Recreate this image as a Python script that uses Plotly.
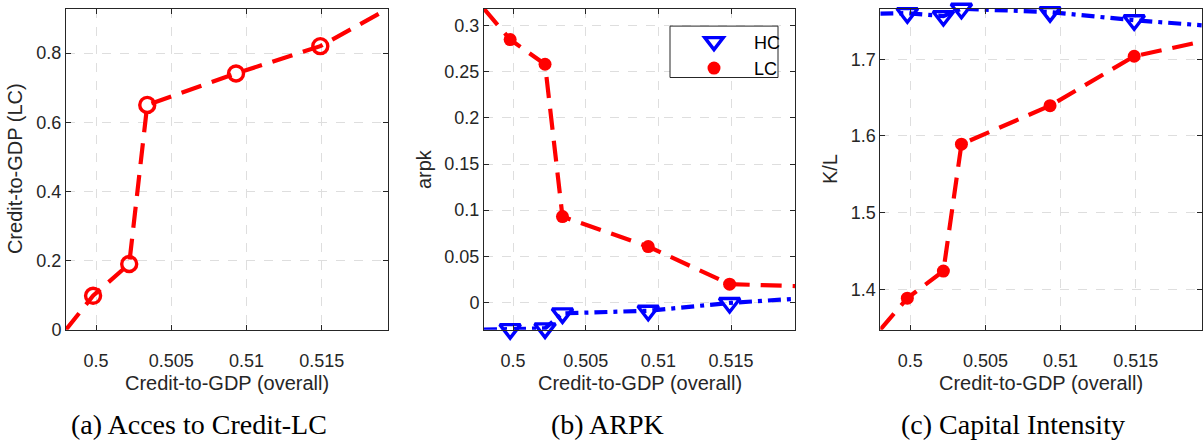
import plotly.graph_objects as go

# ---------------- data ----------------
credit_gdp = [0.4980, 0.4998, 0.5022, 0.5034, 0.5093, 0.5149, 0.5194]
marker_idx = [1, 2, 3, 4, 5]

credit_lc = [0.0, 0.098, 0.190, 0.650, 0.741, 0.820, 0.928]

arpk_lc = [0.3185, 0.2851, 0.2583, 0.0930, 0.0605, 0.0197, 0.0176]
arpk_hc = [-0.0297, -0.0291, -0.0283, -0.0120, -0.0092, -0.0007, 0.0038]

kl_lc = [1.3474, 1.3885, 1.4238, 1.5892, 1.6394, 1.7038, 1.7230]
kl_hc = [1.7595, 1.7600, 1.7562, 1.7657, 1.7614, 1.7508, 1.7442]

x_tickvals = [0.5, 0.505, 0.51, 0.515]
x_ticktext = ["0.5", "0.505", "0.51", "0.515"]
ya_tickvals = [0, 0.2, 0.4, 0.6, 0.8]
ya_ticktext = ["0", "0.2", "0.4", "0.6", "0.8"]
yb_tickvals = [0, 0.05, 0.1, 0.15, 0.2, 0.25, 0.3]
yb_ticktext = ["0", "0.05", "0.1", "0.15", "0.2", "0.25", "0.3"]
yc_tickvals = [1.4, 1.5, 1.6, 1.7]
yc_ticktext = ["1.4", "1.5", "1.6", "1.7"]

x_title = "Credit-to-GDP (overall)"
y_titles = ["Credit-to-GDP (LC)", "arpk", "K/L"]
captions = ["(a) Acces to Credit-LC", "(b) ARPK", "(c) Capital Intensity"]
legend_names = ["HC", "LC"]

# ---------------- styling ----------------
W, H = 1203, 442
RED = "#ff0000"
BLUE = "#0000ff"
AXC = "#262626"
RED_DASH = "21px,11px"
BLUE_DASH = "13px,6px,4px,6px"
SANS = "Liberation Sans, Arial, sans-serif"
NB = "\u00a0"

def px_x(p):
    return p / W

def px_y(p):
    return 1 - p / H

y_dom = [px_y(337.3), px_y(9.0)]
x_doms = [[px_x(66), px_x(388)], [px_x(484), px_x(795)], [px_x(880.3), px_x(1201.8)]]

fig = go.Figure()

def pick(arr):
    return [arr[i] for i in marker_idx]

def add_series(ax, ys, color, dash, symbol, msize, name, showleg):
    xa = "x" if ax == 1 else f"x{ax}"
    xlab = f"x{ax + 3}"
    ya = "y" if ax == 1 else f"y{ax}"
    fig.add_trace(go.Scatter(
        x=credit_gdp, y=ys, mode="lines", xaxis=xa, yaxis=ya,
        line=dict(color=color, width=4.2, dash=dash),
        showlegend=False, hoverinfo="skip"))
    open_sym = symbol.endswith("-open")
    fig.add_trace(go.Scatter(
        x=pick(credit_gdp), y=pick(ys), mode="markers", xaxis=xlab, yaxis=ya,
        name=NB * 4 + name, showlegend=showleg, cliponaxis=False,
        marker=dict(symbol=symbol, size=msize, color=color,
                    line=dict(color=color, width=3.4 if open_sym else 0))))

# panel a
add_series(1, credit_lc, RED, RED_DASH, "circle-open", 15, legend_names[1], False)
# panel b
add_series(2, arpk_hc, BLUE, BLUE_DASH, "triangle-down-open", 18, legend_names[0], True)
add_series(2, arpk_lc, RED, RED_DASH, "circle", 13, legend_names[1], True)
# panel c
add_series(3, kl_hc, BLUE, BLUE_DASH, "triangle-down-open", 18, legend_names[0], False)
add_series(3, kl_lc, RED, RED_DASH, "circle", 13, legend_names[1], False)

tickfont = dict(family=SANS, size=18, color=AXC)

def axis_common():
    return dict(showline=True, linecolor=AXC, linewidth=1, mirror="ticks",
                ticks="inside", ticklen=5, tickwidth=1, tickcolor=AXC,
                showgrid=True, gridcolor="#dedede", gridwidth=1, griddash="dash",
                zeroline=False, tickfont=tickfont)

def tight(*arrs):
    vals = [v for a in arrs for v in a]
    return [min(vals), max(vals)]

y_data = [[credit_lc], [arpk_lc, arpk_hc], [kl_lc, kl_hc]]
y_ticks = [(ya_tickvals, ya_ticktext), (yb_tickvals, yb_ticktext), (yc_tickvals, yc_ticktext)]

layout = dict(width=W, height=H, margin=dict(l=0, r=0, t=0, b=0),
              paper_bgcolor="white", plot_bgcolor="white",
              legend=dict(x=px_x(694), y=px_y(24), xanchor="left", yanchor="top",
                          bgcolor="rgba(0,0,0,0)", borderwidth=0,
                          font=dict(family=SANS, size=18, color="black"),
                          tracegroupgap=0),
              shapes=[dict(type="rect", xref="paper", yref="paper",
                           x0=px_x(670), x1=px_x(778), y0=px_y(79.3), y1=px_y(26.7),
                           line=dict(color=AXC, width=1), fillcolor="white", layer="above")],
              annotations=[])

for i in range(3):
    k = "" if i == 0 else str(i + 1)
    xa = axis_common()
    xa.update(domain=x_doms[i], range=tight(credit_gdp), tickvals=x_tickvals,
              showticklabels=False, anchor="y" + k)
    # label axis: same scale, carries the tick labels a little further below
    xl = dict(domain=x_doms[i], range=tight(credit_gdp), tickvals=x_tickvals,
              ticktext=x_ticktext, overlaying="x" + k, anchor="y" + k, side="bottom",
              ticks="outside", ticklen=15, tickcolor="rgba(0,0,0,0)",
              showline=False, showgrid=False, zeroline=False, tickfont=tickfont)
    ya = axis_common()
    ya.update(domain=y_dom, range=tight(*y_data[i]), tickvals=y_ticks[i][0],
              ticktext=y_ticks[i][1], anchor="x" + k)
    layout["xaxis" + k] = xa
    layout["xaxis" + str(i + 4)] = xl
    layout["yaxis" + k] = ya

ann = []
xcent = [(x_doms[i][0] + x_doms[i][1]) / 2 for i in range(3)]
for i in range(3):
    ann.append(dict(text=x_title, xref="paper", yref="paper", x=xcent[i], y=px_y(391.5),
                    xanchor="center", yanchor="middle", showarrow=False,
                    font=dict(family=SANS, size=20, color=AXC)))
ylab_x = [15, 424, 830]
for i in range(3):
    ann.append(dict(text=y_titles[i], xref="paper", yref="paper", x=px_x(ylab_x[i]),
                    y=px_y(173), xanchor="center", yanchor="middle", textangle=-90,
                    showarrow=False,
                    font=dict(family=SANS, size=20, color=AXC)))
cap_x = [199, 607, 1013]
for i in range(3):
    ann.append(dict(text=captions[i], xref="paper", yref="paper", x=px_x(cap_x[i]),
                    y=px_y(434), xanchor="center", yanchor="middle", showarrow=False,
                    font=dict(family="Liberation Serif, Times New Roman, serif", size=28, color="black")))
layout["annotations"] = ann

fig.update_layout(**layout)
fig.write_html("out.html")
